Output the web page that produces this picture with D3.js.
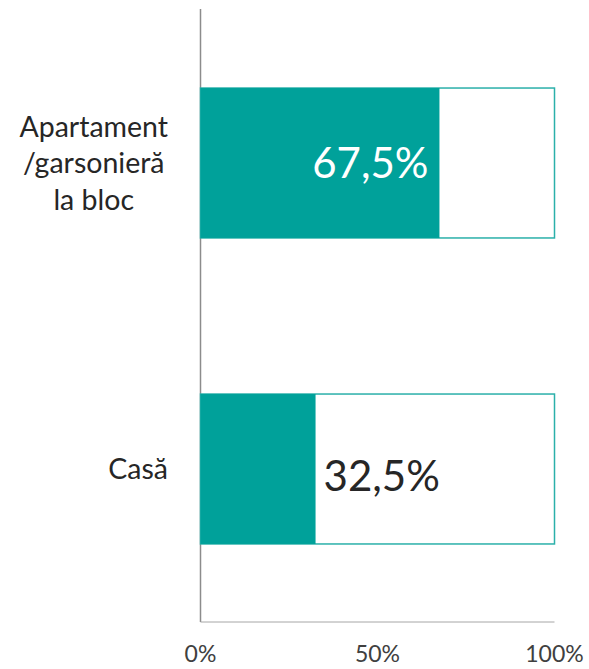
<!DOCTYPE html>
<html>
<head>
<meta charset="utf-8">
<script src="https://cdn.jsdelivr.net/npm/d3@7"></script>
<style>
  body { margin: 0; background: #fff; }
  text { font-family: Lato, "Open Sans", sans-serif; }
</style>
</head>
<body>
<script>
  // categorii si valori (procente)
  var categories = [["Apartament", "/garsonieră", "la bloc"], ["Casă"]];
  var values = [67.5, 32.5];
  var ticks = [0, 50, 100];

  var width = 589, height = 669;
  var teal = "#00a19a";

  var svg = d3.select("body").append("svg")
    .attr("width", width)
    .attr("height", height);

  var x = d3.scaleLinear().domain([0, 100]).range([200.5, 554.5]);
  var y = d3.scaleBand().domain(d3.range(values.length)).range([10, 622]).paddingInner(0.51).paddingOuter(0.255);

  // axa verticala si orizontala
  svg.append("line")
    .attr("x1", x(0)).attr("x2", x(0))
    .attr("y1", 9).attr("y2", 622)
    .attr("stroke", "#8c8c8c").attr("stroke-width", 1.5);
  svg.append("line")
    .attr("x1", x(0)).attr("x2", x(100))
    .attr("y1", 622).attr("y2", 622)
    .attr("stroke", "#a6a6a6").attr("stroke-width", 1);

  // fundal 100% cu contur
  svg.selectAll("rect.total")
    .data(values)
    .enter()
    .append("rect")
    .attr("class", "total")
    .attr("x", x(0))
    .attr("y", function(d, i) { return y(i); })
    .attr("width", x(100) - x(0))
    .attr("height", y.bandwidth())
    .attr("fill", "#fff")
    .attr("stroke", "#2bb0aa")
    .attr("stroke-width", 1.5);

  svg.selectAll("rect.val")
    .data(values)
    .enter()
    .append("rect")
    .attr("class", "val")
    .attr("x", x(0))
    .attr("y", function(d, i) { return y(i); })
    .attr("width", function(d) { return x(d) - x(0); })
    .attr("height", y.bandwidth())
    .attr("fill", teal);

  // etichete valori
  svg.selectAll("text.val")
    .data(values)
    .enter()
    .append("text")
    .attr("class", "val")
    .attr("x", function(d) { return d > 50 ? x(d) - 11 : x(d) + 8; })
    .attr("y", function(d, i) { return y(i) + y.bandwidth() / 2 + (d > 50 ? 15 : 22); })
    .attr("text-anchor", function(d) { return d > 50 ? "end" : "start"; })
    .attr("fill", function(d) { return d > 50 ? "#fff" : "#262626"; })
    .style("font-size", "42px")
    .text(function(d) { return d3.format(".1f")(d).replace(".", ",") + "%"; });

  // etichete categorii: blocul aliniat la dreapta, randurile centrate in bloc
  var labelRight = 168;
  categories.forEach(function(lines, i) {
    var cy = y(i) + y.bandwidth() / 2;
    var t = svg.append("text")
      .attr("text-anchor", "middle")
      .attr("fill", "#262626")
      .style("font-size", "28.5px");
    var spans = lines.map(function(l, k) {
      return t.append("tspan")
        .attr("y", cy + 10 + (k - (lines.length - 1) / 2) * 36.5)
        .text(l);
    });
    var maxW = d3.max(spans, function(s) { return s.node().getComputedTextLength(); });
    spans.forEach(function(s) { s.attr("x", labelRight - maxW / 2); });
  });

  // etichete axa x
  svg.selectAll("text.tick")
    .data(ticks)
    .enter()
    .append("text")
    .attr("class", "tick")
    .attr("x", function(d) { return x(d); })
    .attr("y", 662)
    .attr("text-anchor", "middle")
    .attr("fill", "#404040")
    .style("font-size", "23px")
    .text(function(d) { return d + "%"; });
</script>
</body>
</html>
